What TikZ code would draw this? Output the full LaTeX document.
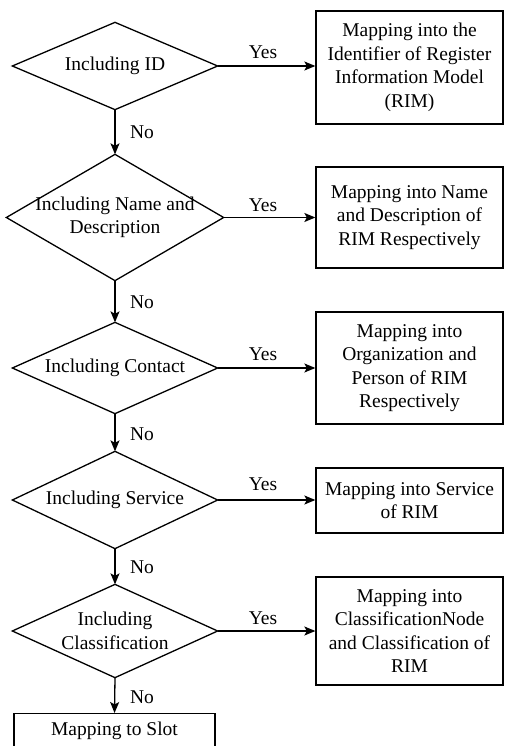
\documentclass[tikz,border=0pt]{standalone}
\usepackage{fontspec}
\setmainfont{Liberation Serif}
\usetikzlibrary{arrows.meta}
\begin{document}
\begin{tikzpicture}[x=1pt,y=-1pt,
  every node/.style={font=\fontsize{19.5}{23.5}\selectfont, inner sep=0pt, align=center},
  dec/.style={minimum width=#1},
  mapbox/.style={draw, minimum width=187pt},
  lbl/.style={},
  flow/.style={-{Stealth[length=11pt,width=9pt,inset=2.5pt]}},
  line width=1.3pt]
\useasboundingbox (0,0) rectangle (505,746);
\clip (0,0) rectangle (505,746);
% decisions (drawn as diamonds below)
\node[dec=204pt, minimum height=86pt]  (d1) at (115,66)    {Including ID};
\node[dec=216pt, minimum height=125pt] (d2) at (115,217.5) {Including Name and\\Description};
\node[dec=204pt, minimum height=90pt]  (d3) at (115,368)   {Including Contact};
\node[dec=204pt, minimum height=96pt]  (d4) at (115,500)   {Including Service};
\node[dec=204pt, minimum height=92pt]  (d5) at (115,631)   {Including\\Classification};
\foreach \d in {d1,d2,d3,d4,d5}
  \draw (\d.west) -- (\d.north) -- (\d.east) -- (\d.south) -- cycle;
% mapping boxes
\node[mapbox, minimum height=113pt] (b1) at (409.5,67.5) {Mapping into the\\Identifier of Register\\Information Model\\(RIM)};
\node[mapbox, minimum height=101pt] (b2) at (409.5,217.5) {Mapping into Name\\and Description of\\RIM Respectively};
\node[mapbox, minimum height=112pt] (b3) at (409.5,368) {Mapping into\\Organization and\\Person of RIM\\Respectively};
\node[mapbox, minimum height=65pt]  (b4) at (409.5,500.5) {Mapping into Service\\of RIM};
\node[mapbox, minimum height=108pt] (b5) at (409.5,631) {Mapping into\\ClassificationNode\\and Classification of\\RIM};
\node[draw, minimum width=201pt, minimum height=40pt, anchor=north] (slot) at (114.5,713) {\raisebox{10pt}{Mapping to Slot}};
% connectors
\foreach \i in {1,...,5}
  \draw[flow] (d\i.east) -- (d\i.east -| b\i.west);
\draw[flow] (d1.south) -- (d2.north);
\draw[flow] (d2.south) -- (d3.north);
\draw[flow] (d3.south) -- (d4.north);
\draw[flow] (d4.south) -- (d5.north);
\draw[flow] (d5.south) -- (slot.north);
% labels
\node[lbl] (y1) at (263,52)  {Yes};
\node[lbl] (y2) at (263,205) {Yes};
\node[lbl] (y3) at (263,354) {Yes};
\node[lbl] (y4) at (263,484) {Yes};
\node[lbl] (y5) at (263,618) {Yes};
\node[lbl] (n1) at (142,132) {No};
\node[lbl] (n2) at (142,302) {No};
\node[lbl] (n3) at (142,434) {No};
\node[lbl] (n4) at (142,567) {No};
\node[lbl] (n5) at (142,697) {No};
\end{tikzpicture}
\end{document}
